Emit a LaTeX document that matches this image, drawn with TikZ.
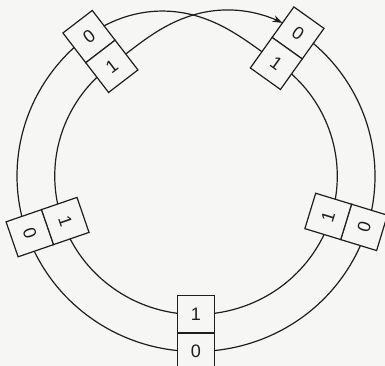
\documentclass[tikz,border=0pt]{standalone}
\usepackage{fontspec}
\setmainfont{Liberation Sans}
\usetikzlibrary{arrows.meta}
\definecolor{bg}{RGB}{246,246,244}
\definecolor{ink}{RGB}{30,30,30}
\begin{document}
\begin{tikzpicture}[x=1pt,y=1pt,
  strand/.style={draw=ink, line width=1.2pt},
  cell/.style={draw=ink, fill=bg, line width=1.2pt, minimum width=37pt, minimum height=37.5pt,
    inner sep=0pt, text=ink, font=\fontsize{18}{18}\selectfont}]
\fill[bg] (0,0) rectangle (385,366);
\useasboundingbox (0,0) rectangle (385,366);
\clip (0,0) rectangle (385,366);
\coordinate (C) at (196,190);
\begin{scope}[shift={(C)}, xscale=1.02]
  \draw[strand] (54.5:175.5) arc[start angle=54.5, end angle=-232.5, radius=175.5];
  \draw[strand] (54.5:138.5) arc[start angle=54.5, end angle=-232.5, radius=138.5];
  \draw[strand] plot[domain=127.5:54.5, samples=90]
    (\x:{157+18.5*cos((127.5-\x)/73*180)+2*(1-cos((127.5-\x)/73*360))});
  \draw[strand, -{Stealth[length=10pt,width=7pt]}] plot[domain=127.5:61, samples=90]
    (\x:{157-18.5*cos((127.5-\x)/73*180)+2*(1-cos((127.5-\x)/73*360))});
\end{scope}
\foreach \t/\r/\n in {127.5/37.5/tl, 54.5/-35.5/tr, 199/289/l, -17/73/r, 270/0/b}{
  \node[cell, rotate=\r] (\n0) at ({196+175.75*cos(\t)},{190+175.75*sin(\t)}) {0};
  \node[cell, rotate=\r] (\n1) at ({196+138.25*cos(\t)},{190+138.25*sin(\t)}) {1};
}
\end{tikzpicture}
\end{document}
